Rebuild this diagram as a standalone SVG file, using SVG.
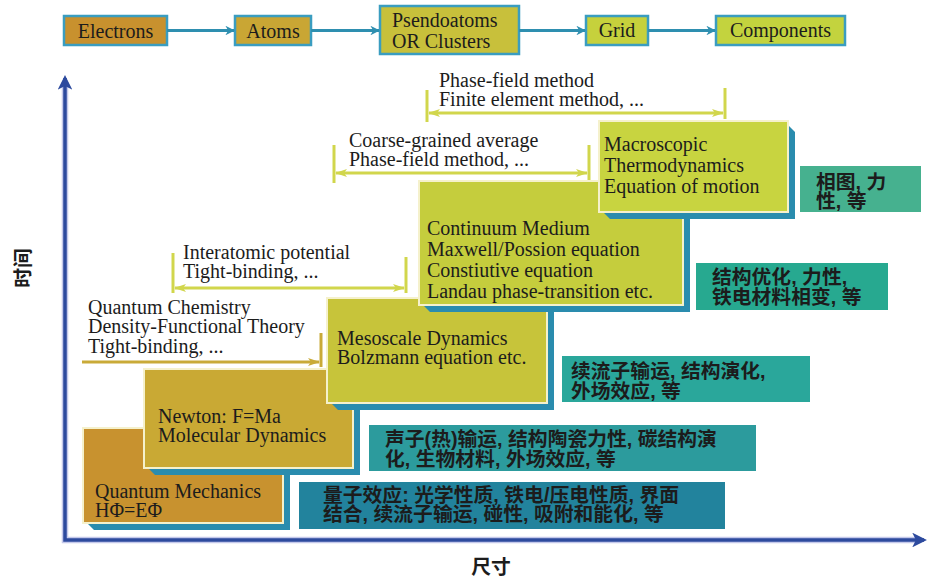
<svg xmlns="http://www.w3.org/2000/svg" width="929" height="577" viewBox="0 0 929 577">
<style>
.en{font-family:"Liberation Serif","Times New Roman",serif;font-size:20px;fill:#1c1c1c}
.cn{font-family:"Liberation Sans","Noto Sans CJK SC",sans-serif;font-size:19.8px;font-weight:bold;fill:#1c1c1c}
.tb{stroke:#3a9dc0;stroke-width:2.5}
.step{stroke:#f5f1cc;stroke-width:2}
.sh{fill:#2a8cae}
.tarr{stroke:#2e8fb0;stroke-width:3;fill:none}
.yl{stroke:#d1d64c;stroke-width:3;fill:none}
.gl{stroke:#c9aa38;stroke-width:3;fill:none}
.axis{stroke:#2d4a9e;stroke-width:3.5;fill:none}
.axisb{stroke:#c4c8ea;stroke-width:6.5;fill:none}
</style>
<defs>
<marker id="mt" viewBox="0 0 10 10" refX="9" refY="5" markerWidth="3.2" markerHeight="3.2" orient="auto" markerUnits="strokeWidth"><path d="M0,0 L10,5 L0,10 L3,5 z" fill="#2e8fb0"/></marker>
<marker id="my" viewBox="0 0 12 8" refX="11" refY="4" markerWidth="4" markerHeight="2.7" orient="auto-start-reverse" markerUnits="strokeWidth"><path d="M0,0 L12,4 L0,8 L3,4 z" fill="#d1d64c"/></marker>
<marker id="mg" viewBox="0 0 12 8" refX="11" refY="4" markerWidth="4" markerHeight="2.7" orient="auto" markerUnits="strokeWidth"><path d="M0,0 L12,4 L0,8 L3,4 z" fill="#c9aa38"/></marker>
<marker id="ma" viewBox="0 0 10 10" refX="8" refY="5" markerWidth="4.2" markerHeight="4.2" orient="auto-start-reverse" markerUnits="strokeWidth"><path d="M0,0 L10,5 L0,10 L2.5,5 z" fill="#2d4a9e"/></marker>
</defs>
<rect width="929" height="577" fill="#ffffff"/>

<!-- axes -->
<g id="axes">
<path class="axisb" d="M65,82 L65,540 L918,540"/>
<path class="axis" d="M65,78 L65,540 L924,540" marker-start="url(#ma)" marker-end="url(#ma)"/>
<text class="cn" transform="translate(30,268) rotate(-90)" text-anchor="middle">时间</text>
<text class="cn" x="491" y="574" text-anchor="middle">尺寸</text>
</g>

<!-- top row nodes -->
<g id="n-electrons"><rect class="tb" x="64" y="16" width="103" height="29" fill="#c8912e"/><text class="en" x="115.5" y="38" text-anchor="middle">Electrons</text></g>
<g id="n-atoms"><rect class="tb" x="235" y="16" width="76" height="29" fill="#c9a634"/><text class="en" x="273" y="38" text-anchor="middle">Atoms</text></g>
<g id="n-pseudo"><rect class="tb" x="380" y="6" width="139" height="48" fill="#c8c03b"/><text class="en" x="392" y="27">Psendoatoms</text><text class="en" x="392" y="48">OR Clusters</text></g>
<g id="n-grid"><rect class="tb" x="586" y="16" width="62" height="29" fill="#c6d13c"/><text class="en" x="617" y="37" text-anchor="middle">Grid</text></g>
<g id="n-components"><rect class="tb" x="716" y="16" width="129" height="29" fill="#c3d33e"/><text class="en" x="780.5" y="37" text-anchor="middle">Components</text></g>

<!-- step boxes -->
<g id="n-quantum">
<polygon class="sh" points="283,432 290,439 290,530 94,530 87,523"/>
<rect class="step" x="83" y="428" width="200" height="95" fill="#c8922f"/>
<text class="en" x="95" y="498">Quantum Mechanics</text>
<text class="en" x="95" y="517">HΦ=EΦ</text>
</g>
<g id="n-newton">
<polygon class="sh" points="353,373 360,380 360,475 155,475 148,468"/>
<rect class="step" x="144" y="369" width="209" height="99" fill="#c9a934"/>
<text class="en" x="158" y="423">Newton: F=Ma</text>
<text class="en" x="158" y="442">Molecular Dynamics</text>
</g>
<g id="n-mesoscale">
<polygon class="sh" points="547,302 554,309 554,410 338,410 331,403"/>
<rect class="step" x="327" y="298" width="220" height="105" fill="#c7c43a"/>
<text class="en" x="337" y="345">Mesoscale Dynamics</text>
<text class="en" x="337" y="364">Bolzmann equation etc.</text>
</g>
<g id="n-continuum">
<polygon class="sh" points="683,185 690,192 690,312 430,312 423,305"/>
<rect class="step" x="419" y="181" width="264" height="124" fill="#c5cd3d"/>
<text class="en" x="427" y="235">Continuum Medium</text>
<text class="en" x="427" y="256">Maxwell/Possion equation</text>
<text class="en" x="427" y="277">Constiutive equation</text>
<text class="en" x="427" y="298">Landau phase-transition etc.</text>
</g>
<g id="n-macro">
<polygon class="sh" points="788,125 795,132 795,219 610,219 603,212"/>
<rect class="step" x="599" y="121" width="189" height="91" fill="#c8d440"/>
<text class="en" x="604" y="151">Macroscopic</text>
<text class="en" x="604" y="172">Thermodynamics</text>
<text class="en" x="604" y="193">Equation of motion</text>
</g>

<!-- property boxes -->
<g id="p-macro"><rect x="800" y="166" width="121" height="46" fill="#46b18f"/><text class="cn" x="816" y="189">相图, 力</text><text class="cn" x="816" y="208">性, 等</text></g>
<g id="p-continuum"><rect x="696" y="263" width="192" height="47" fill="#27a990"/><text class="cn" x="712" y="284">结构优化, 力性,</text><text class="cn" x="712" y="304">铁电材料相变, 等</text></g>
<g id="p-mesoscale"><rect x="562" y="356" width="248" height="46" fill="#2aa79b"/><text class="cn" x="571" y="378">续流子输运, 结构演化,</text><text class="cn" x="571" y="398">外场效应, 等</text></g>
<g id="p-newton"><rect x="369" y="425" width="387" height="46" fill="#2c9b9d"/><text class="cn" x="385" y="446">声子(热)输运, 结构陶瓷力性, 碳结构演</text><text class="cn" x="385" y="466">化, 生物材料, 外场效应, 等</text></g>
<g id="p-quantum"><rect x="299" y="482" width="426" height="47" fill="#22839d"/><text class="cn" x="323" y="502">量子效应: 光学性质, 铁电/压电性质, 界面</text><text class="cn" x="323" y="521">结合, 续流子输运, 碰性, 吸附和能化, 等</text></g>

<!-- method labels -->
<g id="l-qc"><text class="en" x="88" y="314">Quantum Chemistry</text><text class="en" x="88" y="333">Density-Functional Theory</text><text class="en" x="88" y="353">Tight-binding, ...</text></g>
<g id="l-ia"><text class="en" x="183" y="259">Interatomic potential</text><text class="en" x="183" y="278">Tight-binding, ...</text></g>
<g id="l-cg"><text class="en" x="349" y="147">Coarse-grained average</text><text class="en" x="349" y="166">Phase-field method, ...</text></g>
<g id="l-pf"><text class="en" x="439" y="87">Phase-field method</text><text class="en" x="439" y="106">Finite element method, ...</text></g>

<!-- connectors -->
<g id="connectors">
<line class="tarr" x1="167" y1="30.5" x2="234" y2="30.5" marker-end="url(#mt)"/>
<line class="tarr" x1="311" y1="30.5" x2="379" y2="30.5" marker-end="url(#mt)"/>
<line class="tarr" x1="519" y1="30.5" x2="585" y2="30.5" marker-end="url(#mt)"/>
<line class="tarr" x1="648" y1="30.5" x2="715" y2="30.5" marker-end="url(#mt)"/>

<line class="gl" x1="82" y1="362" x2="319" y2="362" marker-end="url(#mg)"/>
<line class="gl" x1="321" y1="333" x2="321" y2="367"/>

<line class="yl" x1="173" y1="253" x2="173" y2="293"/>
<line class="yl" x1="406" y1="257" x2="406" y2="293"/>
<line class="yl" x1="175" y1="288" x2="404" y2="288" marker-start="url(#my)" marker-end="url(#my)"/>

<line class="yl" x1="334" y1="145" x2="334" y2="183"/>
<line class="yl" x1="589" y1="145" x2="589" y2="180"/>
<line class="yl" x1="336" y1="173" x2="587" y2="173" marker-start="url(#my)" marker-end="url(#my)"/>

<line class="yl" x1="427" y1="90" x2="427" y2="122"/>
<line class="yl" x1="725" y1="88" x2="725" y2="119"/>
<line class="yl" x1="429" y1="113" x2="723" y2="113" marker-start="url(#my)" marker-end="url(#my)"/>
</g>
</svg>
